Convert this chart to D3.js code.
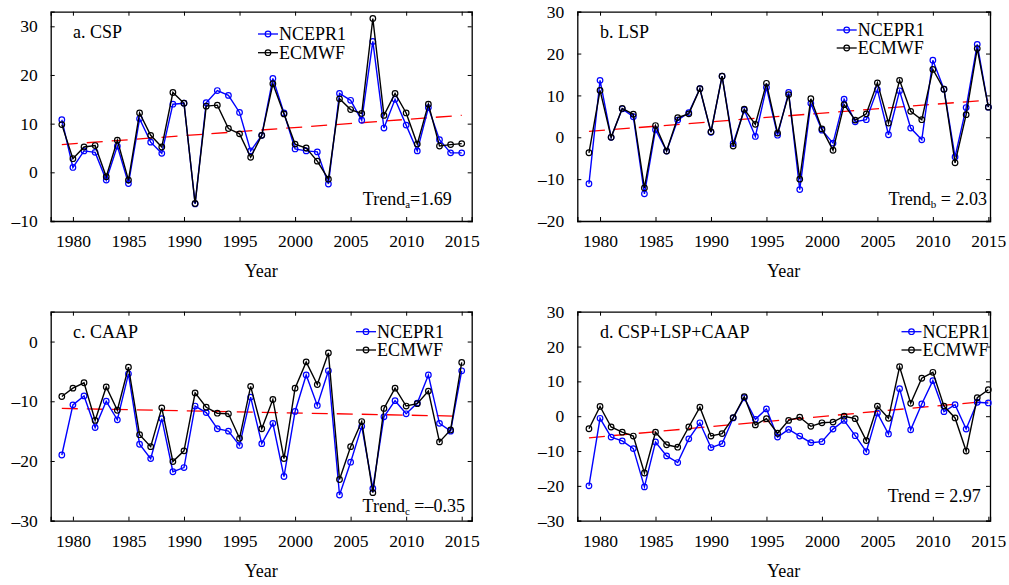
<!DOCTYPE html>
<html>
<head>
<meta charset="utf-8">
<script src="https://cdn.jsdelivr.net/npm/d3@7"></script>
<style>
  body { margin: 0; background: #fff; }
  svg text { font-family: "Liberation Serif", "Times New Roman", serif; fill: #000; }
</style>
</head>
<body>
<svg id="chart" width="1009" height="585"></svg>
<script>
// ===== data =====
const years = d3.range(1979, 2016);

const cspNcep  = [10.8,1.0,4.4,4.1,-1.6,5.4,-2.3,11.0,6.2,3.9,14.0,14.2,-6.5,14.3,16.8,15.8,12.3,4.4,7.6,19.3,12.2,4.8,4.4,4.2,-2.4,16.2,14.8,10.7,26.9,9.1,15.0,9.7,4.4,13.3,6.7,4.0,4.0];
const cspEcmwf = [9.8,2.8,5.2,5.5,-0.9,6.6,-1.6,12.2,7.6,5.2,16.4,14.2,-6.4,13.6,13.8,9.0,7.9,3.1,7.6,18.2,12.0,5.8,5.0,2.3,-1.4,15.1,12.9,12.1,31.6,11.7,16.2,12.2,5.8,14.0,5.4,5.7,5.9];

const lspNcep  = [-11.1,13.6,0,6.8,4.9,-13.5,1.8,-3.3,4.1,5.9,11.6,1.2,14.6,-1.5,6.5,0.2,11.9,0.5,10.7,-12.5,8.1,1.7,-1.4,9.1,3.7,4.2,11.4,0.6,11.1,2.2,-0.6,18.4,11.5,-4.7,7.1,22.2,7.2];
const lspEcmwf = [-3.7,11.2,0,6.9,5.5,-12.1,2.8,-3.3,4.7,5.6,11.6,1.3,14.6,-2.1,6.7,3.1,12.9,1.0,10.2,-10.0,9.2,2.0,-3.1,7.8,4.1,5.6,13.0,3.4,13.6,6.2,4.2,16.2,11.5,-6.1,5.4,21.2,7.2];

const caapNcep  = [-19.0,-10.6,-9.1,-14.4,-10.0,-13.1,-5.4,-17.2,-19.6,-12.9,-21.8,-21.1,-10.8,-11.9,-14.6,-15.0,-17.4,-9.3,-17.1,-13.7,-22.6,-11.7,-5.6,-10.7,-4.9,-25.7,-20.2,-14.2,-24.6,-12.6,-9.9,-12.1,-10.3,-5.6,-13.7,-15.0,-4.9];
const caapEcmwf = [-9.2,-7.8,-6.9,-13.2,-7.6,-11.5,-4.3,-15.6,-17.6,-11.1,-20.1,-18.3,-8.6,-11.0,-12.0,-12.1,-16.2,-7.5,-14.6,-9.7,-19.6,-7.8,-3.4,-7.2,-1.9,-23.1,-17.6,-13.4,-25.3,-11.2,-7.8,-10.8,-10.4,-8.3,-16.8,-14.8,-3.5];

const allNcep  = [-20.0,-0.6,-6.0,-7.1,-9.3,-20.3,-7.4,-11.4,-13.3,-6.5,-1.9,-9.0,-7.9,-0.5,5.3,-0.9,2.1,-6.0,-3.8,-5.7,-7.6,-7.3,-3.7,-1.2,-5.6,-10.2,0.9,-5.1,7.9,-3.9,3.5,10.2,1.3,3.3,-3.7,4.0,3.8];
const allEcmwf = [-3.6,2.8,-3.1,-4.6,-5.7,-16.3,-4.6,-8.2,-8.9,-3.1,2.6,-5.7,-5.0,-0.4,5.6,-2.5,-0.7,-4.9,-1.2,-0.3,-2.9,-1.9,-1.7,0,-0.7,-7.0,2.9,-0.6,14.2,3.7,10.9,12.6,2.9,-0.5,-10.0,5.3,7.6];

// linear trend lines: values at 1979 and 2015
const trendEnds = { a: [5.7, 11.7], b: [1.4, 8.9], c: [-11.2, -12.5], d: [-6.2, 4.3] };

const seriesNames = ['NCEPR1', 'ECMWF'];
const seriesColors = ['#0000ff', '#000000'];

const xTicks = [1980, 1985, 1990, 1995, 2000, 2005, 2010, 2015];

// ===== panel layout =====
const panels = [
  { id: 'a', title: 'a. CSP', ncep: cspNcep, ecmwf: cspEcmwf,
    box: [50.7, 11.7, 471.7, 221], xDom: [1978, 2015.9], yDom: [-10, 33], yTicks: [-10, 0, 10, 20, 30],
    legend: [258, 34, 52.7], trend: { sub: 'a', text: '=1.69', x: 451.7, y: 199 } },
  { id: 'b', title: 'b. LSP', ncep: lspNcep, ecmwf: lspEcmwf,
    box: [577.3, 11.7, 990, 221], xDom: [1977.95, 2015.15], yDom: [-20, 30], yTicks: [-20, -10, 0, 10, 20, 30],
    legend: [836.7, 30, 48], trend: { sub: 'b', text: ' = 2.03', x: 987, y: 199 } },
  { id: 'c', title: 'c. CAAP', ncep: caapNcep, ecmwf: caapEcmwf,
    box: [50.7, 311.7, 471.7, 520.7], xDom: [1978, 2015.9], yDom: [-30, 5], yTicks: [-30, -20, -10, 0],
    legend: [356, 331.7, 350], trend: { sub: 'c', text: ' =\u20130.35', x: 465, y: 506 } },
  { id: 'd', title: 'd. CSP+LSP+CAAP', ncep: allNcep, ecmwf: allEcmwf,
    box: [577.3, 311.7, 990, 520.7], xDom: [1977.95, 2015.15], yDom: [-30, 30], yTicks: [-30, -20, -10, 0, 10, 20, 30],
    legend: [901.5, 331.7, 350], trend: { sub: null, text: 'Trend = 2.97', x: 980.7, y: 496 } }
];

const svg = d3.select('#chart');
const fmt = v => (v < 0 ? '\u2013' + Math.abs(v) : String(v));

panels.forEach(p => {
  const [x0, y0, x1, y1] = p.box;
  const x = d3.scaleLinear().domain(p.xDom).range([x0, x1]);
  const y = d3.scaleLinear().domain(p.yDom).range([y1, y0]);
  const g = svg.append('g');

  // axes: ticks inward on all four sides
  const tl = 4;
  g.append('g').attr('transform', `translate(0,${y1})`)
    .call(d3.axisBottom(x).tickValues(xTicks).tickSize(-tl).tickPadding(14).tickFormat(d3.format('d')));
  g.append('g').attr('transform', `translate(0,${y0})`)
    .call(d3.axisTop(x).tickValues(xTicks).tickSize(-tl).tickFormat(''));
  g.append('g').attr('transform', `translate(${x0},0)`)
    .call(d3.axisLeft(y).tickValues(p.yTicks).tickSize(-tl).tickPadding(13).tickFormat(fmt));
  g.append('g').attr('transform', `translate(${x1},0)`)
    .call(d3.axisRight(y).tickValues(p.yTicks).tickSize(-tl).tickFormat(''));
  g.selectAll('.domain').attr('stroke', '#000').attr('stroke-width', 1.3);
  g.selectAll('.tick line').attr('stroke', '#000').attr('stroke-width', 1);
  g.selectAll('.tick text').style('font-size', '17.5px').style('font-family', '"Liberation Serif", serif');

  // x axis title
  g.append('text').attr('x', (x0 + x1) / 2).attr('y', y1 + 50).attr('dy', '0.35em')
    .attr('text-anchor', 'middle').style('font-size', '18px').text('Year');

  // trend (dashed red)
  const tr = trendEnds[p.id];
  g.append('line')
    .attr('x1', x(1979)).attr('y1', y(tr[0]))
    .attr('x2', x(2015)).attr('y2', y(tr[1]))
    .attr('stroke', '#ff0000').attr('stroke-width', 1.3).attr('stroke-dasharray', '16,9');

  // series
  const line = d3.line().x((d, i) => x(years[i])).y(d => y(d));
  [p.ncep, p.ecmwf].forEach((vals, k) => {
    g.append('path').datum(vals)
      .attr('d', line).attr('fill', 'none')
      .attr('stroke', seriesColors[k]).attr('stroke-width', 1.4);
    g.selectAll(null).data(vals).enter().append('circle')
      .attr('cx', (d, i) => x(years[i])).attr('cy', d => y(d))
      .attr('r', 2.8).attr('fill', 'none')
      .attr('stroke', seriesColors[k]).attr('stroke-width', 1.2);
  });

  // panel title
  g.append('text').attr('x', x(1980)).attr('y', y0 + 20).attr('dy', '0.35em')
    .style('font-size', '18px').text(p.title);

  // legend
  const [lx, ly1, ly2] = p.legend;
  [ly1, ly2].forEach((ly, k) => {
    g.append('line').attr('x1', lx).attr('x2', lx + 20).attr('y1', ly).attr('y2', ly)
      .attr('stroke', seriesColors[k]).attr('stroke-width', 1.3);
    g.append('circle').attr('cx', lx + 10).attr('cy', ly).attr('r', 2.8)
      .attr('fill', 'none').attr('stroke', seriesColors[k]).attr('stroke-width', 1.2);
    g.append('text').attr('x', lx + 21).attr('y', ly).attr('dy', '0.35em')
      .style('font-size', '18px').text(seriesNames[k]);
  });

  // trend label
  const t = g.append('text').attr('x', p.trend.x).attr('y', p.trend.y).attr('dy', '0.35em')
    .attr('text-anchor', 'end').style('font-size', '18px');
  if (p.trend.sub) {
    t.append('tspan').text('Trend');
    t.append('tspan').attr('dy', '3').style('font-size', '11px').text(p.trend.sub);
    t.append('tspan').attr('dy', '-3').text(p.trend.text);
  } else {
    t.text(p.trend.text);
  }
});
</script>
</body>
</html>
